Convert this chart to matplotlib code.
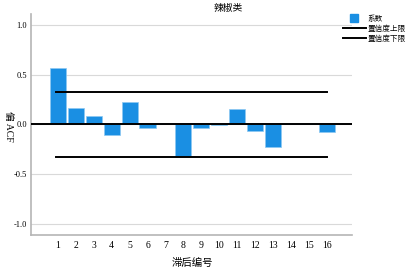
import matplotlib
matplotlib.use('Agg')
import matplotlib.pyplot as plt
from matplotlib.lines import Line2D

# 偏自相关数据（辣椒类）
lags = list(range(1, 17))
pacf = [0.565, 0.169, 0.083, -0.105, 0.229, -0.04, 0.0, -0.313,
        -0.04, -0.01, 0.153, -0.062, -0.223, 0.0, 0.0, -0.078]
upper = [0.33] * 16
lower = [-0.33] * 16
yticks = [-1.0, -0.5, 0.0, 0.5, 1.0]

cjk = ['Noto Sans CJK SC', 'DejaVu Sans']
num_font = 'Liberation Serif'
bar_color = '#1a8fe3'

fig = plt.figure(figsize=(4.05, 2.68), dpi=100)
ax = fig.add_axes([0.0765, 0.123, 0.7925, 0.825])

for y in yticks:
    ax.axhline(y, color='#d9d9d9', lw=0.8, zorder=0)

ax.bar(lags, pacf, width=0.9, color=bar_color, edgecolor='#8cc8f2',
       linewidth=0.5, zorder=2)
ax.axhline(0, color='black', lw=1.4, zorder=3)
ax.plot([0.9] + lags[1:], upper, color='black', lw=1.4, zorder=3)
ax.plot([0.9] + lags[1:], lower, color='black', lw=1.4, zorder=3)

ax.set_xlim(-0.5, 17.4)
ax.set_ylim(-1.11, 1.11)
ax.set_xticks(lags)
ax.set_xticklabels([str(v) for v in lags], fontfamily=num_font, fontsize=7)
ax.set_yticks(yticks)
ax.set_yticklabels(['%.1f' % v for v in yticks], fontfamily=num_font, fontsize=6)
ax.tick_params(axis='y', length=0, pad=3)
ax.tick_params(axis='x', length=0, pad=4)

for s in ['top', 'right']:
    ax.spines[s].set_visible(False)
for s in ['left', 'bottom']:
    ax.spines[s].set_color('#b5b5b5')
    ax.spines[s].set_linewidth(1.2)

fig.text(0.563, 0.97, '辣椒类', ha='center', va='center', family=cjk, fontsize=7)
fig.text(0.474, 0.018, '滞后编号', ha='center', va='center', family=cjk, fontsize=7.5)
fig.text(0.02, 0.53, '偏 ACF', ha='center', va='center', rotation=270,
         family=[num_font, 'Noto Sans CJK SC'], fontsize=7)

handles = [
    Line2D([], [], ls='none', marker='s', markersize=5.5, color=bar_color),
    Line2D([], [], color='black', lw=1.4),
    Line2D([], [], color='black', lw=1.4),
]
labels = ['系数', '置信度上限', '置信度下限']
fig.legend(handles, labels, loc='upper left', bbox_to_anchor=(0.847, 0.945),
           frameon=False, prop={'family': cjk, 'size': 5.5}, handlelength=3.0,
           handletextpad=0.15, labelspacing=0.25, borderaxespad=0, borderpad=0)

fig.savefig('out.png', dpi=100)
